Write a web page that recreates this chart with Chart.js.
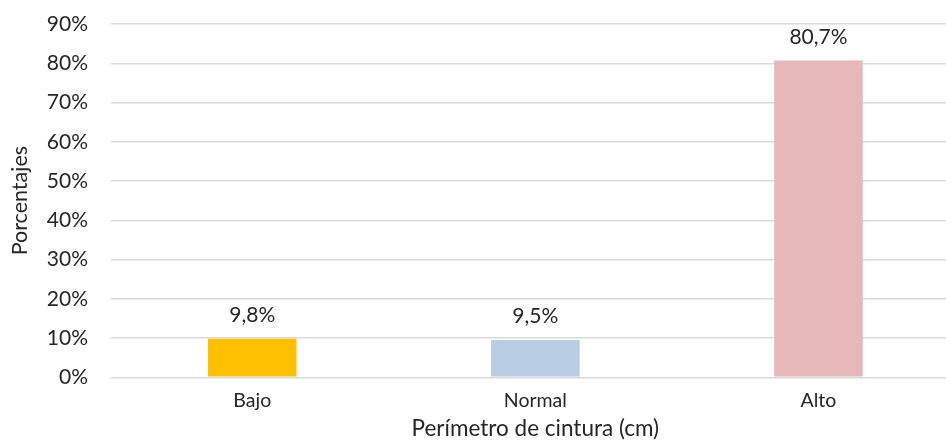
<!DOCTYPE html>
<html>
<head>
<meta charset="utf-8">
<script src="https://cdn.jsdelivr.net/npm/chart.js@4"></script>
<style>
  html, body { margin: 0; padding: 0; overflow: hidden; background: #fff; }
  #wrap { width: 960px; height: 443px; }
</style>
</head>
<body>
<div id="wrap"><canvas id="c" width="960" height="443"></canvas></div>
<script>
// Waist circumference categories and share of participants (%)
const categories = ['Bajo', 'Normal', 'Alto'];
const percentages = [9.8, 9.5, 80.7];
const barColors = ['#FFC000', '#B8CCE4', '#E6B8B7'];
const yTicks = [0, 10, 20, 30, 40, 50, 60, 70, 80, 90];

const FONT = 'Lato, "Open Sans", sans-serif';

// Writes each value (decimal comma) above its bar
const valueLabels = {
  id: 'valueLabels',
  afterDatasetsDraw(chart) {
    const ctx = chart.ctx;
    const meta = chart.getDatasetMeta(0);
    ctx.save();
    ctx.font = '21px ' + FONT;
    ctx.fillStyle = '#262626';
    ctx.textAlign = 'center';
    ctx.textBaseline = 'alphabetic';
    meta.data.forEach((bar, i) => {
      const txt = percentages[i].toFixed(1).replace('.', ',') + '%';
      ctx.fillText(txt, bar.x, bar.y - 17);
    });
    ctx.restore();
  }
};

new Chart(document.getElementById('c'), {
  type: 'bar',
  data: {
    labels: categories,
    datasets: [{
      data: percentages,
      backgroundColor: barColors,
      borderWidth: 0,
      barPercentage: 1,
      categoryPercentage: 0.313
    }]
  },
  options: {
    responsive: false,
    animation: false,
    layout: { padding: { top: 24, right: 0, bottom: 0, left: 0 } },
    plugins: { legend: { display: false }, tooltip: { enabled: false } },
    scales: {
      x: {
        grid: { display: false, drawTicks: false },
        border: { display: false },
        ticks: { color: '#262626', font: { family: FONT, size: 19.5 }, padding: 12 },
        title: {
          display: true,
          text: 'Perímetro de cintura (cm)',
          color: '#262626',
          font: { family: FONT, size: 22.5 },
          padding: { top: 0, bottom: 1 }
        },
        afterFit(scale) { scale.height = 65.7; }
      },
      y: {
        min: 0,
        max: 90,
        afterBuildTicks(scale) { scale.ticks = yTicks.map(v => ({ value: v })); },
        grid: { color: '#d9d9d9', lineWidth: 1.5, drawTicks: false },
        border: { display: false },
        ticks: {
          color: '#262626',
          font: { family: FONT, size: 21 },
          padding: 22.7,
          callback: v => v + '%'
        },
        title: {
          display: true,
          text: 'Porcentajes',
          color: '#262626',
          font: { family: FONT, size: 21.5 },
          padding: { top: 7, bottom: 0 }
        },
        afterFit(scale) {
          scale.width = 110.7;
          scale.paddingTop = 0;
          scale.paddingBottom = 0;
        }
      }
    }
  },
  plugins: [valueLabels]
});
</script>
</body>
</html>
